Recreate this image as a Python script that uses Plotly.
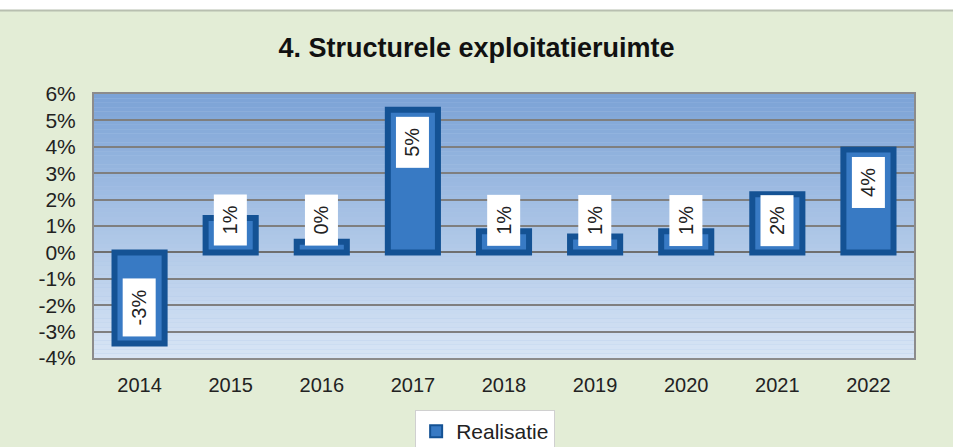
import plotly.graph_objects as go

years = ["2014", "2015", "2016", "2017", "2018", "2019", "2020", "2021", "2022"]
realisatie = [-3.45, 1.3, 0.4, 5.4, 0.8, 0.6, 0.8, 2.2, 3.9]
label_text = ["-3%", "1%", "0%", "5%", "1%", "1%", "1%", "2%", "4%"]
y_ticks = [6, 5, 4, 3, 2, 1, 0, -1, -2, -3, -4]
y_tick_text = ["6%", "5%", "4%", "3%", "2%", "1%", "0%", "-1%", "-2%", "-3%", "-4%"]
title_text = "4. Structurele exploitatieruimte"
series_name = "Realisatie"

FONT = "Liberation Sans, Arial, sans-serif"

fig = go.Figure()
fig.add_trace(go.Bar(
    x=years, y=realisatie, name=series_name, width=0.55,
    marker=dict(color="rgb(56,122,196)", line=dict(color="rgb(20,82,148)", width=6)),
    hoverinfo="skip",
))

# gradient plot background
n = 60
top = (124, 163, 214)
bot = (216, 229, 245)
shapes = []
for i in range(n):
    t = i / (n - 1)
    c = tuple(round(top[k] + (bot[k] - top[k]) * t) for k in range(3))
    shapes.append(dict(type="rect", xref="x domain", yref="y domain",
                       x0=0, x1=1, y0=1 - (i + 1) / n, y1=1 - i / n,
                       fillcolor=f"rgb{c}", line=dict(width=0), layer="below"))
# white strip at top of image
shapes.append(dict(type="rect", xref="paper", yref="paper", x0=-0.2, x1=1.1,
                   y0=1.316, y1=1.40, fillcolor="white", line=dict(width=0), layer="below"))
shapes.append(dict(type="line", xref="paper", yref="paper", x0=-0.2, x1=1.1,
                   y0=1.316, y1=1.316, line=dict(color="#b8bfb0", width=2), layer="below"))

annotations = []
label_h = 1.9
for idx, (v, txt) in enumerate(zip(realisatie, label_text)):
    if v < 0:
        annotations.append(dict(x=idx, y=v + 0.25, yanchor="bottom", text=txt))
    elif v - 0.25 - label_h >= 0.23:
        annotations.append(dict(x=idx, y=v - 0.25, yanchor="top", text=txt))
    else:
        annotations.append(dict(x=idx, y=0.23, yanchor="bottom", text=txt))
for a in annotations:
    a.update(xref="x", yref="y", showarrow=False, textangle=-90, bgcolor="white",
             text=f"&nbsp;{a['text']}&nbsp;",
             borderpad=5, font=dict(family=FONT, size=20, color="#222"), xanchor="center")

fig.update_layout(
    width=953, height=447,
    margin=dict(l=94, r=39, t=94, b=89, autoexpand=False),
    paper_bgcolor="rgb(227,237,214)",
    plot_bgcolor="rgb(170,197,230)",
    title=dict(text=f"<b>{title_text}</b>", x=0.5, xanchor="center", y=0.893, yanchor="middle",
               font=dict(family=FONT, size=27, color="#111")),
    font=dict(family=FONT, color="#222"),
    showlegend=True,
    legend=dict(orientation="h", x=0.477, xanchor="center", y=-0.197, yanchor="top",
                bgcolor="white", bordercolor="#d0d0d0", borderwidth=1,
                font=dict(family=FONT, size=21, color="#222"),
                itemsizing="constant"),
    shapes=shapes,
    annotations=annotations,
)
fig.update_xaxes(type="category", range=[-0.5, len(years) - 0.5], showgrid=False, showline=True,
                 linecolor="#8c8c8c", linewidth=2,
                 mirror=True, tickfont=dict(family=FONT, size=20, color="#222"), ticks="",
                 ticklabelstandoff=8, fixedrange=True)
fig.update_yaxes(range=[-4, 6], tickvals=y_ticks, ticktext=y_tick_text,
                 showgrid=True, gridcolor="#7f7f7f", gridwidth=2,
                 zeroline=True, zerolinecolor="#6f6f6f", zerolinewidth=2,
                 showline=True, linecolor="#8c8c8c", linewidth=2, mirror=True,
                 tickfont=dict(family=FONT, size=21, color="#222"), ticks="",
                 ticklabelstandoff=12, fixedrange=True)

fig.write_html("out.html", config={"displayModeBar": False},
               post_script="document.body.style.margin='0';")
